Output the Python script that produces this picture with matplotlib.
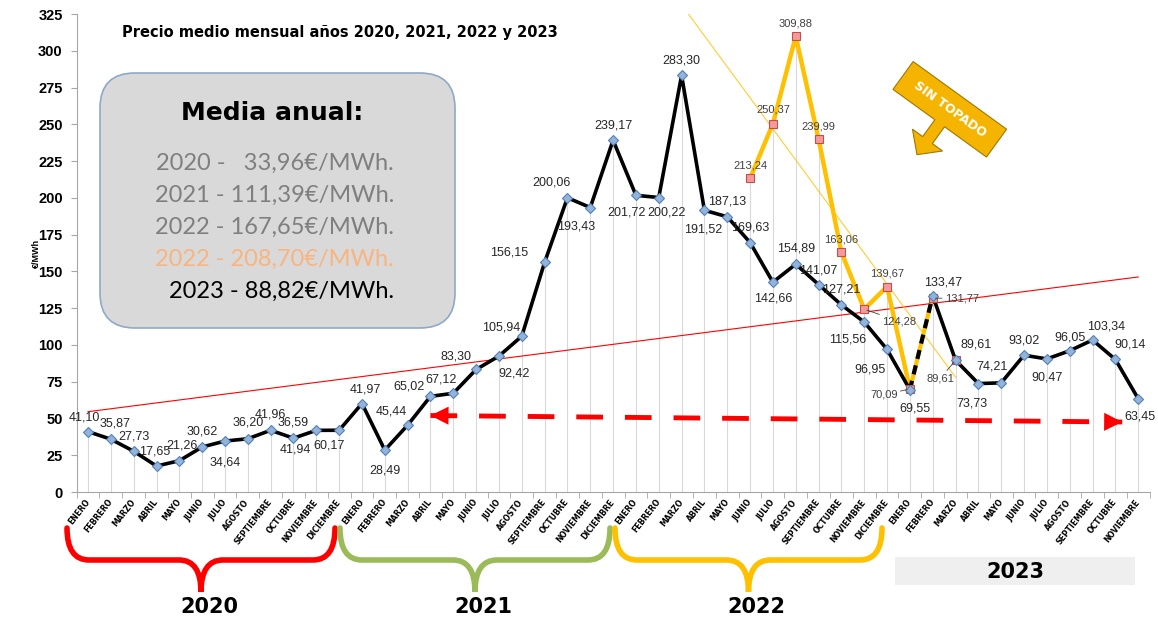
import numpy as np
import matplotlib
matplotlib.use("Agg")
import matplotlib.pyplot as plt
from matplotlib.patches import FancyBboxPatch, Polygon, Rectangle, PathPatch
from matplotlib.path import Path

plt.rcParams["font.family"] = ["Liberation Sans", "DejaVu Sans"]

# ---------------- datos ----------------
meses = ["ENERO", "FEBRERO", "MARZO", "ABRIL", "MAYO", "JUNIO", "JULIO",
         "AGOSTO", "SEPTIEMBRE", "OCTUBRE", "NOVIEMBRE", "DICIEMBRE"]
categorias = meses * 3 + meses[:11]

precio = [41.10, 35.87, 27.73, 17.65, 21.26, 30.62, 34.64, 36.20, 41.96, 36.59, 41.94, 41.97,
          60.17, 28.49, 45.44, 65.02, 67.12, 83.30, 92.42, 105.94, 156.15, 200.06, 193.43, 239.17,
          201.72, 200.22, 283.30, 191.52, 187.13, 169.63, 142.66, 154.89, 141.07, 127.21, 115.56, 96.95,
          69.55, 133.47, 89.61, 73.73, 74.21, 93.02, 90.47, 96.05, 103.34, 90.14, 63.45]

# serie sin tope al gas (jun 2022 - mar 2023)
idx_sin_tope = list(range(29, 39))
sin_tope = [213.24, 250.37, 309.88, 239.99, 163.06, 124.28, 139.67, 70.09, 131.77, 89.61]

medias = ["2020 -   33,96€/MWh.", "2021 - 111,39€/MWh.", "2022 - 167,65€/MWh.",
          "2022 - 208,70€/MWh.", "2023 - 88,82€/MWh."]
anios = ["2020", "2021", "2022", "2023"]

# lineas de tendencia (extremos)
tend_roja_x = [0, 46]
tend_roja_y = [54.6, 146.2]
tend_amarilla_x = [26.3, 38.0]
tend_amarilla_y = [325, 78]
flecha_x = [15.0, 45.3]
flecha_y = [52.0, 47.6]

def fmt(v):
    return f"{v:.2f}".replace(".", ",")

etiquetas = [fmt(v) for v in precio]
etiquetas[11], etiquetas[12] = etiquetas[12], etiquetas[11]  # como en el original

# desplazamientos de etiquetas (px, y hacia abajo)
off_negro = [(-4, -14), (4, -16), (0, -15), (-2, -15), (3, -15), (0, -15), (0, 21), (0, -16),
             (0, -16), (0, -16), (-21, 19), (-10, 15),
             (3, -14), (0, 20), (-16, -14), (-21, -10), (-12, -14), (-20, -13), (15, 17),
             (-21, -9), (-35, -10), (-16, -15), (-14, 19), (0, -15),
             (-9, 17), (8, 15), (0, -15), (-1, 19), (0, -15), (0, -15), (0, 16), (0, -16),
             (0, -14), (0, -15), (-17, 17), (-17, 20),
             (5, 19), (10, -13), (21, -16), (-6, 20), (-9, -16), (0, -15), (0, 19), (0, -13),
             (14, -14), (15, -15), (2, 18)]
off_naranja = [(0, -13), (0, -14), (0, -13), (0, -13), (0, -13), (35, 12), (0, -13),
               (-26, 6), (29, 0), (-15, 18)]
con_guia = [False, False, False, False, False, True, False, True, True, True]

NEGRO = "black"
NARANJA = "#FFC000"
ROJO = "#FF0000"
VERDE = "#9BBB59"

fig = plt.figure(figsize=(11.58, 6.22), dpi=100)
W, H = 1158, 622
ax = fig.add_axes([76.6 / W, (H - 492) / H, (1149.6 - 76.6) / W, (492 - 14) / H])

x = np.arange(len(precio))
ax.set_xlim(-0.5, len(precio) - 0.5)
ax.set_ylim(0, 325)

# lineas verticales hasta cada punto
alto = np.array(precio, dtype=float)
alto[idx_sin_tope] = np.maximum(alto[idx_sin_tope], sin_tope)
ax.vlines(x, 0, alto, color="#D9D9D9", lw=0.8, zorder=1)

ax.plot(tend_roja_x, tend_roja_y, color=ROJO, lw=0.8, zorder=2)
ax.plot(tend_amarilla_x, tend_amarilla_y, color=NARANJA, lw=0.8, alpha=0.8, zorder=2)

# serie sin tope
ax.plot(idx_sin_tope[:8], sin_tope[:8], color=NARANJA, lw=3.2, zorder=3,
        solid_joinstyle="round")
# tramo ene-feb 2023 discontinuo negro/amarillo
ax.plot(x[36:38], precio[36:38], color=NARANJA, lw=3.0, zorder=4)
ax.plot(x[36:38], precio[36:38], color=NEGRO, lw=3.0, ls=(0, (2.2, 1.6)), zorder=4)

# serie principal
ax.plot(x[:37], precio[:37], color=NEGRO, lw=2.6, zorder=4, solid_joinstyle="round")
ax.plot(x[37:], precio[37:], color=NEGRO, lw=2.6, zorder=4, solid_joinstyle="round")
ax.plot(x, precio, ls="none", marker="D", ms=5, mfc="#95B3D7", mec="#4F81BD", mew=0.8, zorder=6)
ax.plot(idx_sin_tope, sin_tope, ls="none", marker="s", ms=6, mfc="#F59A9A", mec="#C0504D",
        mew=0.8, zorder=5)

for i, (lab, (dx, dy)) in enumerate(zip(etiquetas, off_negro)):
    ax.annotate(lab, (x[i], precio[i]), xytext=(dx, -dy), textcoords="offset pixels",
                ha="center", va="center", fontsize=9, color="#262626", zorder=7)

for i, v, (dx, dy), guia in zip(idx_sin_tope, sin_tope, off_naranja, con_guia):
    props = dict(arrowstyle="-", color="#404040", lw=0.6, shrinkA=0, shrinkB=2) if guia else None
    ax.annotate(fmt(v), (i, v), xytext=(dx, -dy), textcoords="offset pixels",
                ha="center", va="center", fontsize=8, color="#404040", zorder=7,
                arrowprops=props)

# flecha roja discontinua
ax.plot(flecha_x, flecha_y, color=ROJO, lw=3.5, ls=(0, (5.5, 4.5)), zorder=3)
pend = (flecha_y[1] - flecha_y[0]) / (flecha_x[1] - flecha_x[0])
estilo = dict(arrowstyle="-|>,head_length=1.3,head_width=0.65", color=ROJO, lw=0,
              shrinkA=0, shrinkB=0)
ax.annotate("", xy=(flecha_x[0], flecha_y[0]), xytext=(flecha_x[0] + 0.8, flecha_y[0] + 0.8 * pend),
            arrowprops=estilo, zorder=3)
ax.annotate("", xy=(flecha_x[1], flecha_y[1]), xytext=(flecha_x[1] - 0.8, flecha_y[1] - 0.8 * pend),
            arrowprops=estilo, zorder=3)

# ejes
for s in ["top", "right"]:
    ax.spines[s].set_visible(False)
for s in ["left", "bottom"]:
    ax.spines[s].set_color("#A6A6A6")
    ax.spines[s].set_linewidth(0.8)
ax.set_yticks(np.arange(0, 326, 25))
ax.tick_params(axis="y", length=4, color="#A6A6A6", labelsize=10.5, pad=6)
for t in ax.get_yticklabels():
    t.set_fontweight("bold")
ax.set_xticks(x)
ax.set_xticklabels(categorias, rotation=52, ha="right", va="center", rotation_mode="anchor",
                   fontsize=5.6, fontweight="bold", family="DejaVu Sans")
ax.tick_params(axis="x", which="major", length=0, pad=6)
ax.set_xticks(np.arange(-0.5, len(precio), 1), minor=True)
ax.tick_params(axis="x", which="minor", length=4, color="#A6A6A6")
ax.set_ylabel("€/MWh", fontsize=6.5, fontweight="bold", labelpad=-2)

# ---------------- decoraciones (coordenadas de pixel) ----------------
ov = fig.add_axes([0, 0, 1, 1], zorder=5)
ov.set_xlim(0, W)
ov.set_ylim(H, 0)
ov.axis("off")
ov.patch.set_alpha(0)

ov.text(122, 33, "Precio medio mensual años 2020, 2021, 2022 y 2023", fontsize=10.5,
        fontweight="bold", family="DejaVu Sans", ha="left", va="center")

caja = FancyBboxPatch((100 + 35, 73 + 35), 355 - 70, 255 - 70,
                      boxstyle="round,pad=35", fc="#D9D9D9", ec="#8EA9C8", lw=1.2)
ov.add_patch(caja)
ov.text(272, 113, "Media anual:", fontsize=18, fontweight="bold", family="DejaVu Sans",
        ha="center", va="center")
colores = ["#7F7F7F", "#7F7F7F", "#7F7F7F", "#F9B47F", "black"]
for k, (txt, c) in enumerate(zip(medias, colores)):
    ov.text(394, 163 + k * 32, txt, fontsize=17, color=c, family="Lato",
            fontweight="normal", ha="right", va="center")

# llaves
def llave(x0, x1, color, ytop=528, ymid=560, ybot=592, r=22):
    xc = (x0 + x1) / 2
    v = [(x0, ytop), (x0, ymid), (x0 + r, ymid), (xc - r, ymid), (xc, ymid), (xc, ybot),
         (xc, ymid), (xc + r, ymid), (x1 - r, ymid), (x1, ymid), (x1, ytop)]
    c = [Path.MOVETO, Path.CURVE3, Path.CURVE3, Path.LINETO, Path.CURVE3, Path.CURVE3,
         Path.CURVE3, Path.CURVE3, Path.LINETO, Path.CURVE3, Path.CURVE3]
    ov.add_patch(PathPatch(Path(v, c), fc="none", ec=color, lw=4, capstyle="round"))
    return xc

for (x0, x1, col), anio in zip([(67, 335, ROJO), (340, 610, VERDE), (615, 882, NARANJA)], anios):
    xc = llave(x0, x1, col)
    ov.text(xc + 8, 607, anio, fontsize=15, fontweight="bold", family="DejaVu Sans",
            ha="center", va="center")

ov.add_patch(Rectangle((895, 557), 240, 28, fc="#EFEFEF", ec="none"))
ov.text(1015, 572, anios[3], fontsize=15, fontweight="bold", family="DejaVu Sans",
        ha="center", va="center")

# flecha "SIN TOPADO"
C = np.array([949.8, 109.3])
ang = np.deg2rad(35.9)
dv = np.array([np.cos(ang), np.sin(ang)])
nv = np.array([-np.sin(ang), np.cos(ang)])
forma = [(-57.7, -17.2), (57.7, -17.2), (57.7, 17.2), (6, 17.2), (6, 38), (18.6, 38), (0, 56),
         (-18.6, 38), (-6, 38), (-6, 17.2), (-57.7, 17.2)]
pts = [C + a * dv + b * nv for a, b in forma]
ov.add_patch(Polygon(pts, closed=True, fc="#F4B400", ec="#A07800", lw=0.8))
ov.text(C[0], C[1], "SIN TOPADO", rotation=-35.9, color="white", fontsize=9, fontweight="bold",
        family="DejaVu Sans", ha="center", va="center", rotation_mode="anchor")

fig.savefig("out.png", dpi=100)
